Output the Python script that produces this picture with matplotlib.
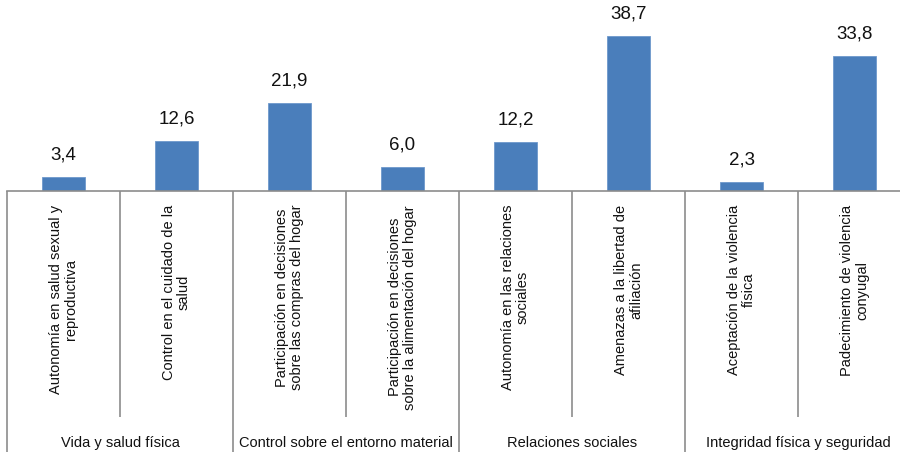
import matplotlib
matplotlib.use("Agg")
import matplotlib.pyplot as plt
import matplotlib.transforms as mtransforms

plt.rcParams['font.family'] = ['Liberation Sans', 'DejaVu Sans']

categorias = [
    "Autonomía en salud sexual y\nreproductiva",
    "Control en el cuidado de la\nsalud",
    "Participación en decisiones\nsobre las compras del hogar",
    "Participación en decisiones\nsobre la alimentación del hogar",
    "Autonomía en las relaciones\nsociales",
    "Amenazas a la libertad de\nafiliación",
    "Aceptación de la violencia\nfísica",
    "Padecimiento de violencia\nconyugal",
]
valores = [3.4, 12.6, 21.9, 6.0, 12.2, 38.7, 2.3, 33.8]
grupos = ["Vida y salud física", "Control sobre el entorno material",
          "Relaciones sociales", "Integridad física y seguridad"]

W, H = 900, 456
fig = plt.figure(figsize=(9, 4.56), dpi=100)
# el eje se sale un poco por la derecha, como en el original
ax = fig.add_axes([7 / W, 1 - 192 / H, 904 / W, 192 / H])

x = range(len(valores))
bars = ax.bar(x, valores, width=0.38, color="#4a7ebb", edgecolor="#6e98cc", linewidth=0.6)
for b, v in zip(bars, valores):
    ax.annotate(f"{v:.1f}".replace(".", ","), (b.get_x() + b.get_width() / 2, v),
                xytext=(0, 10.5), textcoords="offset points",
                ha="center", va="bottom", fontsize=13.5, color="#111111")

ax.set_xlim(-0.5, len(valores) - 0.5)
ax.set_ylim(0, 48)
for s in ["top", "right", "left"]:
    ax.spines[s].set_visible(False)
ax.spines["bottom"].set_color("#8c8c8c")
ax.spines["bottom"].set_linewidth(1.2)
ax.set_xticks([])
ax.set_yticks([])

# lineas divisorias bajo el eje: datos en x, figura en y
tr = mtransforms.blended_transform_factory(ax.transData, fig.transFigure)
y0 = 1 - 192 / H
for i in range(len(valores) + 1):
    xe = i - 0.5
    y1 = 1 - 453 / H if i % 2 == 0 else 1 - 418 / H
    ax.plot([xe, xe], [y0, y1], transform=tr, color="#8c8c8c", lw=1.2,
            clip_on=False, solid_capstyle="butt")

# etiquetas de categoria giradas
for i, c in enumerate(categorias):
    ax.text(i, 1 - 205 / H, c, transform=tr, rotation=90, ha="center", va="top",
            multialignment="center", fontsize=10.5, color="#111111", linespacing=1.1)

# etiquetas de grupo
for g, nombre in enumerate(grupos):
    ax.text(2 * g + 0.5, 1 - 443 / H, nombre, transform=tr, ha="center", va="center",
            fontsize=10.5, color="#111111")

fig.savefig("out.png", dpi=100)
